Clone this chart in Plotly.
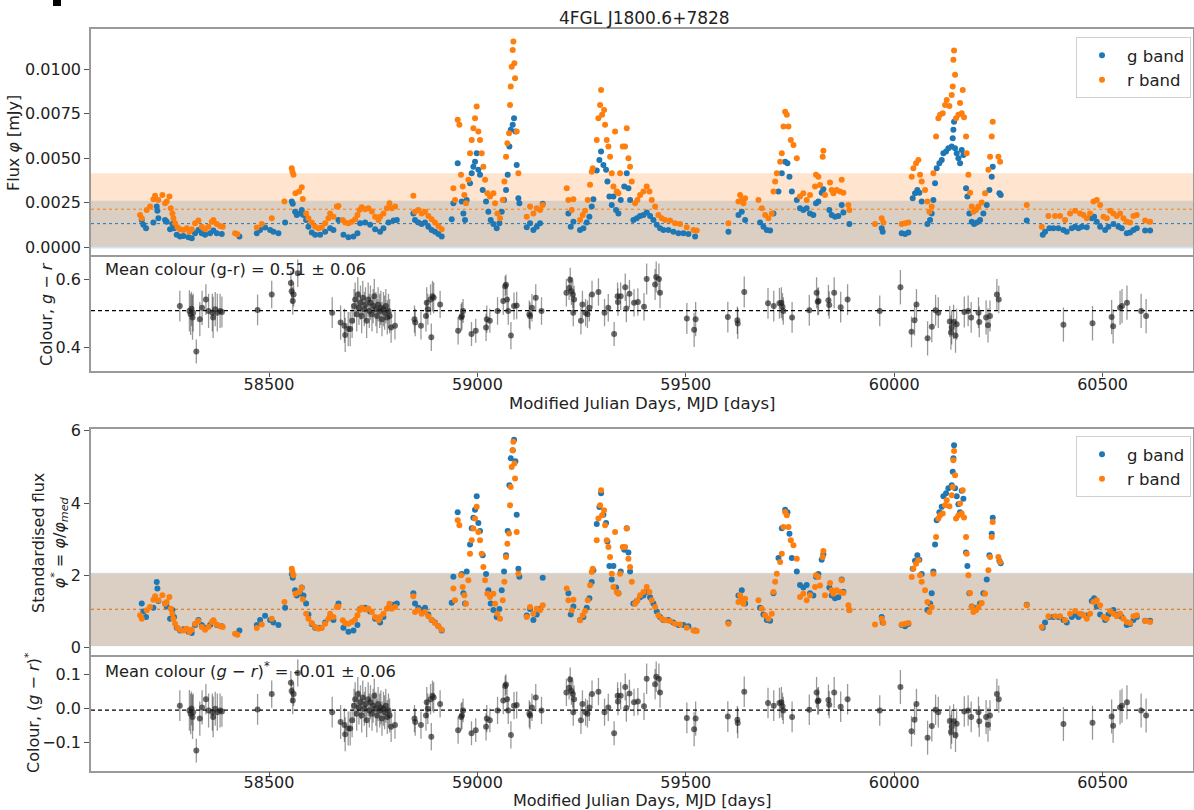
import plotly.graph_objects as go

# ---------------- data ----------------
g_mjd = [58194.6, 58198.6, 58205, 58222.6, 58230.6, 58232.2, 58234.6, 58250.6, 58254.6, 58262.6,
         58268.2, 58272.2, 58278.6, 58286.6, 58294.6, 58306.6, 58314.6, 58322.6, 58330.6, 58338.6,
         58346.6, 58358.6, 58366.6, 58374.6, 58386.6, 58429, 58470.6, 58478.6, 58490.6, 58502.6,
         58510.6, 58522.6, 58538.6, 58554.6, 58557, 58562.6, 58566.6, 58574.6, 58578.6, 58582.6,
         58589, 58594.6, 58602.6, 58610.6, 58622.6, 58634.6, 58646.6, 58654.6, 58666.6, 58678.6,
         58690.6, 58702.6, 58712.2, 58718.6, 58730.6, 58742.6, 58754.6, 58766.6, 58774.6, 58786.6,
         58798.6, 58806.6,
         58846.3, 58850.3, 58858.3, 58866.3, 58874.3, 58882.3, 58890.3, 58898.3, 58906.3, 58914.3,
         58938.3, 58942.3, 58952.7, 58962.3, 58966.3, 58970.3, 58974.3, 58982.3, 58986.3, 58990.3,
         58994.3, 58998.3, 59002.3, 59006.3, 59012.7, 59020.7, 59026.3, 59031.9, 59038.3, 59046.3,
         59052.7, 59058.3, 59063.9, 59068.7, 59072.7, 59076.7, 59079.9, 59084.7, 59087.9, 59091.1,
         59094.3, 59098.3, 59100.7, 59118.3, 59126.3, 59134.3, 59142.3, 59150.3, 59156.7, 59218.3,
         59223.9, 59230.3, 59246.3, 59254.3, 59262.3, 59268.7, 59274.3, 59278.3, 59286.3, 59292.7,
         59296.7, 59302.3, 59308.7, 59311.9, 59316.7, 59322.3, 59326.3, 59332.7, 59338.3, 59343.9,
         59352.3, 59358.3, 59362.3, 59366.3, 59374.3, 59382.3, 59390.3, 59398.3, 59406.3, 59414.3,
         59422.3, 59430.3, 59438.3, 59446.3, 59458.3, 59470.3, 59482.3, 59494.3, 59506.3, 59522.3,
         59602.3, 59626.3, 59634.3, 59642.3, 59678.3, 59686.3, 59694.3, 59702.3, 59710.3, 59722.3,
         59730.3, 59738.3, 59743.9, 59748.7, 59754.3, 59766.3,
         59774, 59782, 59790, 59798, 59806, 59812.4, 59818, 59826, 59830, 59844.4,
         59850, 59858, 59866, 59874, 59878, 59892.4, 59970, 59972.4, 60018, 60026,
         60034, 60044.4, 60050, 60055.6, 60060.4, 60066, 60079.6, 60086, 60090, 60094,
         60098, 60102, 60108.4, 60114, 60118, 60124.4, 60130, 60138, 60140.4, 60142,
         60143.6, 60146, 60150, 60154, 60158, 60162, 60166, 60172.4, 60175.6, 60180.4,
         60186, 60191.6, 60198, 60206, 60214, 60222, 60228.4, 60234, 60236.4, 60252.4,
         60255.6, 60318, 60356.4, 60362, 60372.4, 60382, 60394, 60406, 60414, 60426,
         60434, 60442, 60450, 60462, 60474, 60479.6, 60486, 60494, 60506, 60514,
         60526, 60538, 60546, 60558, 60566, 60574, 60582, 60602, 60614]
g_flux = [0.00154, 0.00126, 0.00107, 0.00139, 0.00229, 0.00206, 0.00163, 0.00154, 0.00144, 0.00101,
          0.00131, 0.00107, 0.0007, 0.0006, 0.00064, 0.00056, 0.00051, 0.00079, 0.00097, 0.00079,
          0.0007, 0.00079, 0.00094, 0.00079, 0.00075, 0.0006, 0.00079, 0.00097, 0.00111, 0.00097,
          0.00088, 0.00079, 0.00139, 0.00257, 0.00244, 0.002, 0.00182, 0.0019, 0.0021, 0.00182,
          0.00154, 0.00116, 0.00083, 0.0007, 0.0007, 0.00088, 0.00107, 0.00097, 0.00154, 0.0007,
          0.00056, 0.0006, 0.00079, 0.00135, 0.00139, 0.00126, 0.00101, 0.00088, 0.00107, 0.00139,
          0.0015, 0.00154,
          0.0019, 0.00154, 0.00139, 0.00131, 0.00139, 0.00116, 0.00097, 0.00088, 0.00075, 0.0006,
          0.00157, 0.00247, 0.00472, 0.00257, 0.0019, 0.00154, 0.00266, 0.0036, 0.00416, 0.00453,
          0.00481, 0.00528, 0.00435, 0.00407, 0.00322, 0.00257, 0.002, 0.00154, 0.00131, 0.00107,
          0.00135, 0.002, 0.00266, 0.00322, 0.00407, 0.00566, 0.0066, 0.00688, 0.00725, 0.0065,
          0.00463, 0.00275, 0.00247, 0.00112, 0.00135, 0.00097, 0.00116, 0.00135, 0.00244, 0.0019,
          0.00116, 0.00144, 0.00097, 0.00107, 0.00139, 0.00172, 0.00229, 0.0027, 0.00431, 0.0049,
          0.00538, 0.00463, 0.00435, 0.0037, 0.00285, 0.00238, 0.00285, 0.0021, 0.0019, 0.00266,
          0.00341, 0.00416, 0.00332, 0.00266, 0.00154, 0.00163, 0.00176, 0.00182, 0.00195, 0.00176,
          0.00154, 0.00126, 0.00107, 0.00097, 0.00097, 0.00088, 0.00079, 0.00079, 0.00075, 0.0006,
          0.00088, 0.00182, 0.002, 0.00154, 0.00139, 0.00116, 0.00097, 0.00094, 0.0019, 0.00313,
          0.00416, 0.00481, 0.00472, 0.00397, 0.00313, 0.00266,
          0.00219, 0.0021, 0.00219, 0.0019, 0.00182, 0.00247, 0.00257, 0.00307, 0.00326, 0.0021,
          0.00182, 0.00172, 0.00176, 0.00238, 0.00195, 0.00131, 0.00107, 0.00088, 0.00079, 0.00075,
          0.00083, 0.00275, 0.00303, 0.00322, 0.00307, 0.00257, 0.00131, 0.00154, 0.0019, 0.00266,
          0.0036, 0.00444, 0.00472, 0.00491, 0.00528, 0.00538, 0.00556, 0.00566, 0.00613, 0.0066,
          0.00706, 0.00556, 0.00528, 0.005, 0.00472, 0.00547, 0.00519, 0.00332, 0.00285, 0.0019,
          0.00144, 0.00131, 0.00139, 0.00154, 0.0019, 0.00238, 0.00322, 0.00397, 0.00453, 0.00303,
          0.00294, 0.0015, 0.0007, 0.00088, 0.00107, 0.00107, 0.00107, 0.00097, 0.00088, 0.00107,
          0.00116, 0.00107, 0.00116, 0.00112, 0.00163, 0.00172, 0.00144, 0.00116, 0.00097, 0.00116,
          0.00131, 0.00116, 0.00107, 0.00079, 0.00083, 0.00097, 0.00107, 0.00094, 0.00094]

r_mjd = [58190.6, 58194.6, 58206.6, 58214.6, 58222.6, 58226.6, 58234.6, 58244.2, 58250.6, 58254.6,
         58261, 58264.2, 58268.2, 58270.6, 58274.6, 58280.2, 58286.6, 58294.6, 58302.6, 58309,
         58314.6, 58322.6, 58330.6, 58338.6, 58346.6, 58354.6, 58362.6, 58366.6, 58374.6, 58382.6,
         58389, 58418.6, 58424.2, 58470.6, 58482.6, 58506.6, 58537, 58554.6, 58556.2, 58558.6,
         58563.4, 58572.2, 58578.6, 58581, 58589, 58594.6, 58602.6, 58610.6, 58618.6, 58626.6,
         58634.6, 58642.6, 58646.6, 58654.6, 58662.6, 58666.6, 58677, 58682.6, 58690.6, 58698.6,
         58706.6, 58712.2, 58717, 58722.6, 58730.6, 58738.6, 58746.6, 58754.6, 58762.6, 58766.6,
         58774.6, 58782.6, 58789, 58794.6, 58802.6,
         58846.3, 58850.3, 58858.3, 58866.3, 58874.3, 58882.3, 58890.3, 58898.3, 58906.3, 58914.3,
         58942.3, 58946.3, 58952.7, 58956.7, 58960.7, 58964.7, 58968.7, 58972.7, 58978.3, 58982.3,
         58986.3, 58990.3, 58994.3, 58998.3, 59002.3, 59006.3, 59010.3, 59014.3, 59018.3, 59023.9,
         59030.3, 59038.3, 59042.3, 59047.9, 59054.3, 59060.7, 59064.7, 59068.7, 59071.9, 59075.9,
         59078.3, 59079.9, 59082.3, 59084.7, 59086.3, 59088.7, 59090.3, 59094.3, 59098.3, 59118.3,
         59126.3, 59134.3, 59142.3, 59150.3, 59156.7, 59214.3, 59218.3, 59226.3, 59230.3, 59246.3,
         59252.7, 59258.3, 59264.7, 59270.3, 59274.3, 59276.7, 59286.3, 59290.3, 59294.3, 59296.7,
         59299.1, 59303.9, 59306.3, 59310.3, 59314.3, 59318.3, 59322.3, 59326.3, 59330.3, 59334.3,
         59338.3, 59342.3, 59348.7, 59354.3, 59358.3, 59362.3, 59366.3, 59370.3, 59378.3, 59383.9,
         59390.3, 59398.3, 59406.3, 59412.7, 59418.3, 59426.3, 59434.3, 59442.3, 59450.3, 59462.3,
         59474.3, 59486.3, 59502.3, 59518.3, 59526.3, 59602.3, 59626.3, 59630.3, 59634.3, 59638.3,
         59642.3, 59674.3, 59682.3, 59690.3, 59698.3, 59706.3, 59710.3, 59714.3, 59718.3, 59726.3,
         59730.3, 59734.3, 59738.3, 59742.3, 59746.3, 59751.9, 59758.3, 59766.3,
         59774, 59782, 59790, 59798, 59810, 59812.4, 59818, 59822, 59828.4, 59830,
         59834, 59846, 59850, 59854, 59862, 59870, 59874, 59878, 59890, 59892.4,
         59954, 59970, 59974, 60018, 60026, 60034, 60042, 60046, 60052.4, 60058,
         60062, 60066, 60074, 60079.6, 60084.4, 60090, 60094, 60100.4, 60106, 60110,
         60116.4, 60122, 60126, 60132.4, 60138, 60140.4, 60142, 60143.6, 60146, 60148.4,
         60154, 60158, 60162, 60164.4, 60167.6, 60172.4, 60174, 60178, 60182, 60186,
         60190, 60196.4, 60202, 60210, 60218, 60226, 60230, 60234, 60236.4, 60250,
         60254, 60318, 60354, 60370, 60386, 60398, 60410, 60422, 60434, 60446,
         60454, 60462, 60470, 60478, 60486, 60494, 60502, 60510, 60518, 60526,
         60534, 60542, 60550, 60558, 60566, 60574, 60582, 60602, 60614]
r_flux = [0.00182, 0.00163, 0.0021, 0.00229, 0.0027, 0.00289, 0.00266, 0.00294, 0.00247, 0.00257,
          0.00285, 0.00219, 0.0019, 0.00163, 0.00135, 0.00112, 0.00101, 0.00097, 0.00107, 0.00088,
          0.00101, 0.00135, 0.0015, 0.00116, 0.00101, 0.00116, 0.00144, 0.00154, 0.00131, 0.0012,
          0.00116, 0.00079, 0.00073, 0.00111, 0.00131, 0.00163, 0.00257, 0.00444, 0.00425, 0.00407,
          0.00303, 0.00313, 0.00337, 0.00272, 0.0019, 0.00163, 0.00139, 0.00116, 0.00107, 0.00111,
          0.00135, 0.00163, 0.0019, 0.00172, 0.00229, 0.00232, 0.00154, 0.00139, 0.00135, 0.00144,
          0.00157, 0.00182, 0.0021, 0.00225, 0.00214, 0.00219, 0.00201, 0.00172, 0.00154, 0.00172,
          0.0019, 0.00219, 0.00247, 0.00219, 0.00229,
          0.00289, 0.002, 0.0021, 0.0019, 0.002, 0.00176, 0.00157, 0.00139, 0.0012, 0.00101,
          0.00332, 0.00266, 0.00716, 0.00688, 0.00407, 0.00341, 0.00294, 0.00247, 0.00379, 0.00528,
          0.00603, 0.00669, 0.00725, 0.00791, 0.0065, 0.00603, 0.00528, 0.00453, 0.00379, 0.00303,
          0.00285, 0.00303, 0.00247, 0.0019, 0.00163, 0.00266, 0.0037, 0.00509, 0.00584, 0.00641,
          0.008, 0.00903, 0.01015, 0.01109, 0.01156, 0.01034, 0.0095, 0.0065, 0.00416, 0.00172,
          0.00229, 0.0019, 0.00219, 0.0021, 0.00238, 0.00332, 0.00266, 0.0021, 0.0027, 0.00154,
          0.00182, 0.00206, 0.00266, 0.00351, 0.00425, 0.00444, 0.00603, 0.00725, 0.008, 0.00884,
          0.00744, 0.00772, 0.00688, 0.00603, 0.00566, 0.00509, 0.00416, 0.00341, 0.0065, 0.00313,
          0.00303, 0.00416, 0.00566, 0.00566, 0.00669, 0.005, 0.00453, 0.0037, 0.00247, 0.00266,
          0.00294, 0.00313, 0.00341, 0.00313, 0.00266, 0.00229, 0.00182, 0.00163, 0.00154, 0.0015,
          0.00135, 0.00131, 0.00112, 0.00097, 0.00094, 0.00135, 0.00257, 0.00294, 0.00266, 0.00247,
          0.00275, 0.00266, 0.00219, 0.00182, 0.00163, 0.0019, 0.00313, 0.0037, 0.00416, 0.00481,
          0.00528, 0.00678, 0.00762, 0.00744, 0.00678, 0.00603, 0.00575, 0.005,
          0.00285, 0.00303, 0.00266, 0.00294, 0.00341, 0.00407, 0.00397, 0.0035, 0.00509, 0.00543,
          0.00294, 0.00364, 0.00322, 0.00303, 0.00322, 0.00313, 0.00379, 0.00307, 0.00238, 0.0021,
          0.00131, 0.00163, 0.00139, 0.00131, 0.00135, 0.00139, 0.00397, 0.00444, 0.00472, 0.00491,
          0.00407, 0.0037, 0.00322, 0.00257, 0.002, 0.00229, 0.00416, 0.00622, 0.00725, 0.00744,
          0.00753, 0.008, 0.00828, 0.00794, 0.00856, 0.00903, 0.01053, 0.01105, 0.00969, 0.00725,
          0.00744, 0.0081, 0.00753, 0.00884, 0.00731, 0.00622, 0.00528, 0.00407, 0.00307, 0.00229,
          0.002, 0.0021, 0.00229, 0.00251, 0.00303, 0.00435, 0.00509, 0.00622, 0.00706, 0.00509,
          0.00481, 0.00238, 0.00116, 0.00176, 0.00176, 0.00176, 0.00154, 0.0019, 0.00206, 0.0019,
          0.00182, 0.00163, 0.0019, 0.00257, 0.00266, 0.00238, 0.00172, 0.00163, 0.00206, 0.0019,
          0.00176, 0.0019, 0.00163, 0.00144, 0.00139, 0.00176, 0.00182, 0.0015, 0.00144]

col_mjd = [58286, 58309, 58312, 58314, 58316.5, 58318, 58325.6, 58334, 58339.4, 58348.6,
           58355, 58364, 58366, 58371, 58376, 58382.6, 58387, 58472.6, 58506.5, 58552.4,
           58554.3, 58557, 58559, 58569, 58651.6, 58671.8, 58681, 58682.8, 58690, 58694.8,
           58699.4, 58704, 58706.7, 58710.4, 58713, 58715.8, 58719.5, 58722.3, 58725, 58728.7,
           58731.5, 58734.2, 58737.9, 58740.7, 58743.4, 58747.1, 58749.9, 58752.6, 58756.3, 58759,
           58761.8, 58765.5, 58768.2, 58771, 58774.6, 58777.4, 58780.2, 58783.8, 58786.6, 58789.3,
           58793, 58802.2, 58849, 58850.8, 58864.6, 58876.6, 58878.4, 58881, 58887.6, 58889.4,
           58892.2, 58895, 58910.5, 58953.7, 58961, 58962.9, 58965.6, 58985.8, 58996, 59020.7,
           59022.5, 59029.9, 59048.3, 59062, 59066.6, 59068.5, 59071.2, 59074, 59080.4, 59087.8,
           59094.2, 59124.5, 59126.3, 59130.9, 59140, 59153.8, 59213.5, 59220, 59222.7, 59225.5,
           59229, 59230, 59232, 59248.4, 59252, 59259.5, 59264, 59268.6, 59275, 59290.4,
           59305, 59314, 59328, 59336.3, 59337.2, 59343.7, 59354.7, 59357.4, 59364.8, 59375.8,
           59385, 59399.7, 59406.1, 59426.3, 59429, 59435.5, 59438.2, 59502.5, 59520, 59523.6,
           59600.8, 59623.7, 59624.6, 59640.2, 59697.2, 59711, 59724.7, 59729.3, 59732, 59733.9,
           59755, 59796.3, 59813.8, 59816.5, 59818.4, 59842.2, 59844.1, 59856, 59871.6, 59888.2,
           59965.3, 60014.9, 60041.5, 60048.8, 60053.4, 60080.1, 60090.2, 60099.3, 60105.8, 60133.3,
           60136.1, 60137.9, 60142.5, 60147.1, 60149.8, 60168.2, 60177.4, 60184.7, 60202.2, 60204.1,
           60220.5, 60225.1, 60229.8, 60246.3, 60250.9, 60406, 60475.8, 60521.7, 60525.3, 60541.9,
           60546.5, 60558.5, 60592.4, 60604.4]
col_val = [0.521, 0.507, 0.497, 0.513, 0.488, 0.502, 0.389, 0.483, 0.516, 0.540,
           0.507, 0.502, 0.488, 0.512, 0.502, 0.507, 0.504, 0.510, 0.555, 0.588,
           0.564, 0.536, 0.555, 0.617, 0.502, 0.473, 0.464, 0.437, 0.454, 0.454,
           0.478, 0.521, 0.540, 0.497, 0.555, 0.516, 0.531, 0.492, 0.545, 0.512,
           0.526, 0.478, 0.540, 0.507, 0.531, 0.497, 0.521, 0.550, 0.512, 0.492,
           0.526, 0.507, 0.516, 0.483, 0.512, 0.502, 0.521, 0.488, 0.507, 0.492,
           0.459, 0.464, 0.483, 0.473, 0.464, 0.492, 0.531, 0.512, 0.540, 0.430,
           0.550, 0.545, 0.526, 0.449, 0.488, 0.492, 0.507, 0.440, 0.449, 0.459,
           0.483, 0.478, 0.507, 0.536, 0.579, 0.583, 0.540, 0.507, 0.435, 0.521,
           0.523, 0.497, 0.492, 0.516, 0.545, 0.507, 0.560, 0.574, 0.598, 0.564,
           0.555, 0.502, 0.540, 0.478, 0.526, 0.502, 0.497, 0.516, 0.555, 0.562,
           0.502, 0.516, 0.440, 0.550, 0.533, 0.550, 0.576, 0.514, 0.557, 0.531,
           0.533, 0.519, 0.600, 0.584, 0.606, 0.600, 0.560, 0.485, 0.452, 0.483,
           0.489, 0.480, 0.470, 0.562, 0.529, 0.521, 0.529, 0.531, 0.519, 0.507,
           0.488, 0.509, 0.560, 0.534, 0.536, 0.538, 0.524, 0.560, 0.518, 0.540,
           0.507, 0.576, 0.446, 0.480, 0.526, 0.427, 0.461, 0.509, 0.502, 0.476,
           0.444, 0.459, 0.475, 0.435, 0.468, 0.504, 0.507, 0.488, 0.502, 0.475,
           0.488, 0.465, 0.492, 0.555, 0.540, 0.467, 0.471, 0.489, 0.462, 0.516,
           0.521, 0.531, 0.507, 0.492]
col_err = [0.045, 0.06, 0.06, 0.05, 0.065, 0.055, 0.035, 0.05, 0.05, 0.045,
           0.05, 0.055, 0.06, 0.05, 0.055, 0.05, 0.045, 0.045, 0.04, 0.035,
           0.035, 0.04, 0.035, 0.04, 0.045, 0.05, 0.05, 0.05, 0.05, 0.05,
           0.05, 0.05, 0.05, 0.05, 0.05, 0.05, 0.05, 0.05, 0.05, 0.05,
           0.05, 0.05, 0.05, 0.05, 0.05, 0.05, 0.05, 0.05, 0.05, 0.05,
           0.05, 0.05, 0.05, 0.05, 0.05, 0.05, 0.05, 0.05, 0.05, 0.05,
           0.045, 0.04, 0.04, 0.04, 0.04, 0.045, 0.045, 0.045, 0.045, 0.04,
           0.045, 0.045, 0.04, 0.04, 0.04, 0.04, 0.035, 0.035, 0.035, 0.04,
           0.04, 0.035, 0.04, 0.04, 0.03, 0.03, 0.035, 0.04, 0.04, 0.04,
           0.04, 0.04, 0.04, 0.04, 0.04, 0.04, 0.04, 0.035, 0.035, 0.04,
           0.04, 0.04, 0.04, 0.04, 0.04, 0.04, 0.04, 0.04, 0.04, 0.04,
           0.04, 0.04, 0.035, 0.04, 0.04, 0.04, 0.04, 0.04, 0.04, 0.04,
           0.04, 0.04, 0.045, 0.045, 0.045, 0.045, 0.045, 0.045, 0.05, 0.05,
           0.045, 0.04, 0.045, 0.045, 0.045, 0.045, 0.045, 0.045, 0.04, 0.04,
           0.045, 0.045, 0.045, 0.04, 0.04, 0.045, 0.04, 0.045, 0.045, 0.045,
           0.045, 0.05, 0.045, 0.045, 0.045, 0.05, 0.045, 0.045, 0.045, 0.045,
           0.05, 0.05, 0.05, 0.05, 0.045, 0.045, 0.045, 0.045, 0.045, 0.045,
           0.05, 0.05, 0.045, 0.045, 0.04, 0.05, 0.05, 0.05, 0.05, 0.05,
           0.05, 0.05, 0.05, 0.05]

# reference levels
G_MEAN_FLUX = 0.00133
R_MEAN_FLUX = 0.00214
G_MED = 0.00126          # median flux used for standardisation
R_MED = 0.00203
G_BAND = (-0.00007, 0.00262)
R_BAND = (0.00003, 0.00416)
G_BAND_STD = (0.04, 2.075)
R_BAND_STD = (0.05, 2.055)
STD_MEAN = 1.06
MEAN_COLOUR = 0.5077
COLOUR_OFFSET = 0.514     # (g-r)* = (g-r) - offset
MEAN_COLOUR_STD = MEAN_COLOUR - COLOUR_OFFSET

g_std = [f / G_MED for f in g_flux]
r_std = [f / R_MED for f in r_flux]
col_std = [c - COLOUR_OFFSET for c in col_val]

x_ticks = [58500, 59000, 59500, 60000, 60500]

# ---------------- figure ----------------
BLUE = "#1f77b4"
ORANGE = "#ff7f0e"
FONT = "DejaVu Sans"
W, H = 1194, 810

def py(p):  # pixel-from-top -> paper
    return 1 - p / H

def px(p):
    return p / W

XR = [58072.9, 60716.9]
XD = [px(91), px(1193)]

fig = go.Figure()

# panel 1
fig.add_trace(go.Scatter(x=g_mjd, y=g_flux, mode="markers", name="g band",
                         marker=dict(color=BLUE, size=6, line=dict(width=0)),
                         xaxis="x", yaxis="y", legend="legend"))
fig.add_trace(go.Scatter(x=r_mjd, y=r_flux, mode="markers", name="r band",
                         marker=dict(color=ORANGE, size=6, line=dict(width=0)),
                         xaxis="x", yaxis="y", legend="legend"))
# panel 2
fig.add_trace(go.Scatter(x=col_mjd, y=col_val, mode="markers", showlegend=False,
                         marker=dict(color="rgba(30,30,30,0.65)", size=6, line=dict(width=0)),
                         error_y=dict(type="data", array=col_err, color="rgba(0,0,0,0.4)",
                                      thickness=1.3, width=0),
                         xaxis="x2", yaxis="y2"))
# panel 3
fig.add_trace(go.Scatter(x=g_mjd, y=g_std, mode="markers", name="g band",
                         marker=dict(color=BLUE, size=6, line=dict(width=0)),
                         xaxis="x3", yaxis="y3", legend="legend2"))
fig.add_trace(go.Scatter(x=r_mjd, y=r_std, mode="markers", name="r band",
                         marker=dict(color=ORANGE, size=6, line=dict(width=0)),
                         xaxis="x3", yaxis="y3", legend="legend2"))
# panel 4
fig.add_trace(go.Scatter(x=col_mjd, y=col_std, mode="markers", showlegend=False,
                         marker=dict(color="rgba(30,30,30,0.65)", size=6, line=dict(width=0)),
                         error_y=dict(type="data", array=col_err, color="rgba(0,0,0,0.4)",
                                      thickness=1.3, width=0),
                         xaxis="x4", yaxis="y4"))

shapes = []
def rect(xdom, yref, lo, hi, color):
    shapes.append(dict(type="rect", xref=xdom, yref=yref, x0=0, x1=1, y0=lo, y1=hi,
                       fillcolor=color, line=dict(width=0), layer="below"))

def hline(xdom, yref, yv, color, dash, width=1):
    shapes.append(dict(type="line", xref=xdom, yref=yref, x0=0, x1=1, y0=yv, y1=yv,
                       line=dict(color=color, dash=dash, width=width), layer="below"))

rect("x domain", "y", G_BAND[0], G_BAND[1], "rgba(31,119,180,0.2)")
rect("x domain", "y", R_BAND[0], R_BAND[1], "rgba(255,127,14,0.2)")
hline("x domain", "y", G_MEAN_FLUX, BLUE, "dot")
hline("x domain", "y", R_MEAN_FLUX, ORANGE, "dot")
rect("x3 domain", "y3", G_BAND_STD[0], G_BAND_STD[1], "rgba(31,119,180,0.2)")
rect("x3 domain", "y3", R_BAND_STD[0], R_BAND_STD[1], "rgba(255,127,14,0.2)")
hline("x3 domain", "y3", STD_MEAN, BLUE, "dot")
hline("x3 domain", "y3", STD_MEAN, ORANGE, "dot")
hline("x2 domain", "y2", MEAN_COLOUR, "black", "4px,3px", 1.2)
hline("x4 domain", "y4", MEAN_COLOUR_STD, "black", "4px,3px", 1.2)
# small black mark at the top-left corner of the image
shapes.append(dict(type="rect", xref="paper", yref="paper", x0=px(53), x1=px(61), y0=py(6), y1=1,
                   fillcolor="black", line=dict(width=0)))

axis_common = dict(showgrid=False, zeroline=False, showline=True, mirror=True,
                   linecolor="#9a9a9a", linewidth=1.5, automargin=False,
                   tickfont=dict(family=FONT, size=16, color="#222"),
                   ticks="outside", ticklen=5, tickcolor="#555", tickwidth=1.2)

def xax_top(anchor):
    # upper panels: only the top frame line (the lower panel draws the shared border)
    d = dict(axis_common)
    d.update(domain=XD, range=XR, anchor=anchor, side="top", mirror=False,
             showticklabels=False, ticks="")
    return d

def xax(anchor, standoff):
    d = dict(axis_common)
    d.update(domain=XD, range=XR, anchor=anchor, tickvals=x_ticks, tickformat="d",
             ticklen=4, ticklabelstandoff=standoff)
    return d

def yax(anchor, dom, rng, tickvals, fmt):
    d = dict(axis_common)
    d.update(domain=dom, range=rng, anchor=anchor, tickvals=tickvals, tickformat=fmt)
    return d

fig.update_layout(
    width=W, height=H,
    margin=dict(l=0, r=0, t=0, b=0, pad=0, autoexpand=False),
    paper_bgcolor="white", plot_bgcolor="white",
    font=dict(family=FONT, size=16, color="#222"),
    xaxis=xax_top("y"),
    xaxis2=xax("y2", -6),
    xaxis3=xax_top("y3"),
    xaxis4=xax("y4", -8),
    yaxis=yax("x", [py(256.7), py(29)], [-0.000528, 0.012264], [0, 0.0025, 0.005, 0.0075, 0.01], ".4f"),
    yaxis2=yax("x2", [py(371.3), py(256.7)], [0.331, 0.665], [0.4, 0.6], ".1f"),
    yaxis3=yax("x3", [py(657), py(429)], [-0.257, 6.05], [0, 2, 4, 6], "d"),
    yaxis4=yax("x4", [py(770.7), py(657)], [-0.184, 0.15], [-0.1, 0.0, 0.1], ".1f"),
    shapes=shapes,
    legend=dict(x=px(1191), y=py(37), xanchor="right", yanchor="top",
                bgcolor="rgba(255,255,255,0.85)", bordercolor="#d0d0d0", borderwidth=1,
                font=dict(family=FONT, size=16.5, color="#222"), itemwidth=40),
    legend2=dict(x=px(1191), y=py(436), xanchor="right", yanchor="top",
                 bgcolor="rgba(255,255,255,0.85)", bordercolor="#d0d0d0", borderwidth=1,
                 font=dict(family=FONT, size=16.5, color="#222"), itemwidth=40),
)

ann = []
def text(x, y, t, size=16, angle=0, xanchor="center", yanchor="middle"):
    ann.append(dict(x=px(x), y=py(y), xref="paper", yref="paper", text=t, showarrow=False,
                    textangle=angle, xanchor=xanchor, yanchor=yanchor,
                    font=dict(family=FONT, size=size, color="#222")))

text(645, 18, "4FGL J1800.6+7828", size=17)
text(14, 143, "Flux <i>φ</i> [mJy]", angle=-90)
text(46, 314, "Colour, <i>g</i> − <i>r</i>", angle=-90)
text(50, 543, "Standardised flux<br><i>φ</i><sup>*</sup> = <i>φ</i>/<i>φ</i><sub><i>med</i></sub>", angle=-90)
text(32, 713, "Colour, (<i>g</i> − <i>r</i>)<sup>*</sup>", angle=-90)
text(103, 270, "Mean colour (g-r) = 0.51 ± 0.06", size=16.3, xanchor="left")
text(103, 670, "Mean colour (<i>g</i> − <i>r</i>)<sup>*</sup> = -0.01 ± 0.06", size=16.3, xanchor="left")
text(642, 403, "Modified Julian Days, MJD [days]", size=16.5)
text(642, 800, "Modified Julian Days, MJD [days]", size=16)
fig.update_layout(annotations=ann)

fig.write_html("out.html")
